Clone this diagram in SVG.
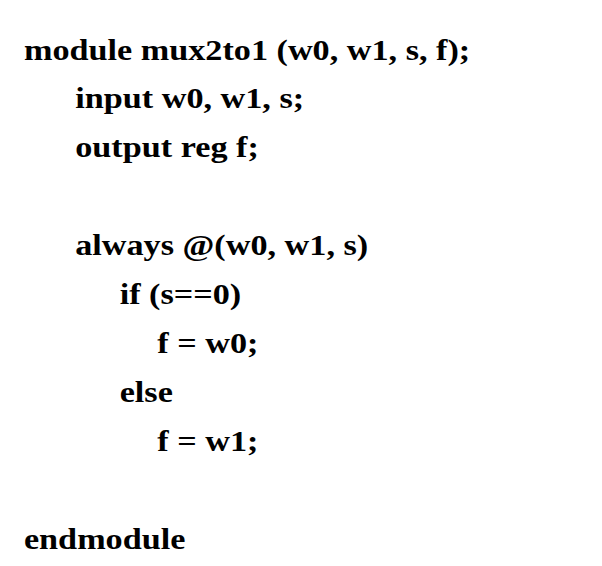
<svg xmlns="http://www.w3.org/2000/svg" width="602" height="566" viewBox="0 0 602 566">
<style>text{font-family:"Liberation Serif","Times New Roman",serif;font-weight:bold;font-size:30px;fill:#000}</style>
<rect width="602" height="566" fill="#fff"/>
<g id="code" transform="scale(1.14,1)">
<text x="21" y="60">module mux2to1 (w0, w1, s, f);</text>
<text x="66" y="108">input w0, w1, s;</text>
<text x="66" y="157">output reg f;</text>
<text x="66" y="255">always @(w0, w1, s)</text>
<text x="105" y="304">if (s==0)</text>
<text x="138" y="353">f = w0;</text>
<text x="105" y="402">else</text>
<text x="138" y="451">f = w1;</text>
<text x="21" y="549">endmodule</text>
</g>
</svg>
